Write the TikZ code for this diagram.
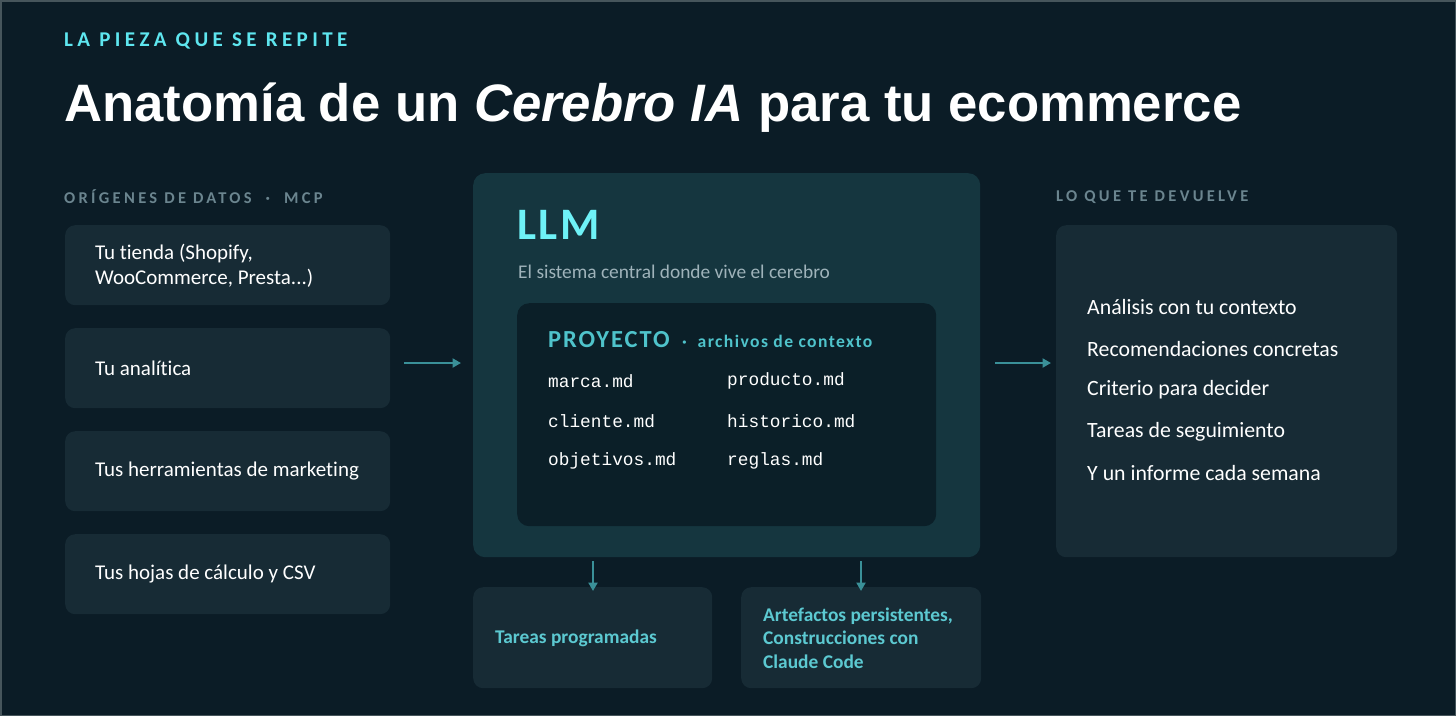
\documentclass[tikz,border=0pt]{standalone}
\usepackage{fontspec}
\setmainfont{Carlito}[Ligatures=NoCommon]
\newfontfamily\titlefont{Liberation Sans}
\newfontfamily\filefont{Liberation Mono}
\newfontfamily\widefont[LetterSpace=20]{Carlito}
\newfontfamily\kickfont[LetterSpace=21]{Carlito}
\newfontfamily\midfont[LetterSpace=8]{Carlito}
\newfontfamily\llmfont[LetterSpace=6]{Carlito}
\usetikzlibrary{arrows.meta}
\definecolor{bgc}{HTML}{0B1C26}
\definecolor{framec}{HTML}{46555B}
\definecolor{cardc}{HTML}{172B35}
\definecolor{llmc}{HTML}{15363F}
\definecolor{projc}{HTML}{0B1F28}
\definecolor{cyanA}{HTML}{5EE6EF}
\definecolor{cyanB}{HTML}{6EF2F7}
\definecolor{cyanC}{HTML}{4FC3CB}
\definecolor{cyanD}{HTML}{5CC9D1}
\definecolor{grayl}{HTML}{6B858F}
\definecolor{subc}{HTML}{9FB3BA}
\definecolor{arrc}{HTML}{3A9098}
\tikzset{
  card/.style={fill=cardc, rounded corners=10pt, inner sep=0pt, anchor=north west},
  llmbox/.style={fill=llmc, rounded corners=12pt, inner sep=0pt, anchor=north west},
  projbox/.style={fill=projc, rounded corners=12pt, inner sep=0pt, anchor=north west},
  lbl/.style={anchor=west, inner sep=0pt, text=grayl, font=\widefont\bfseries\fontsize{16.5}{20}\selectfont},
  srctxt/.style={anchor=west, inner sep=0pt, text=white, align=left, font=\fontsize{21}{25}\selectfont},
  outtxt/.style={anchor=west, inner sep=0pt, text=white, font=\fontsize{21.8}{25}\selectfont},
  filetxt/.style={anchor=west, inner sep=0pt, text=white, font=\filefont\fontsize{17.8}{20}\selectfont},
  bottxt/.style={anchor=west, inner sep=0pt, text=cyanD, align=left, font=\bfseries\fontsize{19.4}{23.5}\selectfont},
  arr/.style={draw=arrc, line width=2.6pt, -{Triangle[length=8.5pt,width=9pt]}},
}
\begin{document}
\begin{tikzpicture}[x=1pt,y=-1pt]
\useasboundingbox (0,0) rectangle (1456,716);
\fill[framec] (0,0) rectangle (1456,716);
\fill[bgc] (1.5,1.5) rectangle (1454.5,714.5);

% header
\node[anchor=base west, inner sep=0pt, text=cyanA, font=\kickfont\bfseries\fontsize{21}{24}\selectfont] (kicker) at (64,46) {LA PIEZA QUE SE REPITE};
\node[anchor=base west, inner sep=0pt, text=white, font=\titlefont\bfseries\fontsize{52.7}{60}\selectfont] (title) at (64,121) {Anatomía de un \textit{Cerebro IA} para tu ecommerce};

% left column
\node[lbl] (srclbl) at (64,197) {ORÍGENES DE DATOS~~·~~MCP};
\node[card, minimum width=325pt, minimum height=80pt] (s1) at (65,225) {};
\node[card, minimum width=325pt, minimum height=80pt] (s2) at (65,328) {};
\node[card, minimum width=325pt, minimum height=80pt] (s3) at (65,431) {};
\node[card, minimum width=325pt, minimum height=80pt] (s4) at (65,534) {};
\node[srctxt] (t1) at (95,266) {Tu tienda (Shopify,\\WooCommerce, Presta...)};
\node[srctxt] (t2) at (95,368) {Tu analítica};
\node[srctxt] (t3) at (95,471) {Tus herramientas de marketing};
\node[srctxt] (t4) at (95,574) {Tus hojas de cálculo y CSV};

% center
\node[llmbox, minimum width=507pt, minimum height=384pt] (llm) at (473,173) {};
\node[anchor=base west, inner sep=0pt, text=cyanB, font=\llmfont\bfseries\fontsize{45}{50}\selectfont] (llmt) at (517,239) {LLM};
\node[anchor=base west, inner sep=0pt, text=subc, font=\fontsize{19.4}{22}\selectfont] (llms) at (518,278) {El sistema central donde vive el cerebro};
\node[projbox, minimum width=419pt, minimum height=223pt] (proj) at (517,303) {};
\node[anchor=base west, inner sep=0pt, text=cyanC, font=\midfont\bfseries\fontsize{24.5}{28}\selectfont] (projt) at (548,347) {PROYECTO};
\node[anchor=base west, inner sep=0pt, text=cyanC, font=\midfont\bfseries\fontsize{17.6}{20}\selectfont] (projs) at (682,347) {·~~archivos de contexto};
\node[filetxt] (f1) at (548,381) {marca.md};
\node[filetxt] (f2) at (727,381) {producto.md};
\node[filetxt] (f3) at (548,421) {cliente.md};
\node[filetxt] (f4) at (727,421) {historico.md};
\node[filetxt] (f5) at (548,461) {objetivos.md};
\node[filetxt] (f6) at (727,461) {reglas.md};

% bottom
\node[card, minimum width=239pt, minimum height=101pt] (b1) at (473,587) {};
\node[card, minimum width=240pt, minimum height=101pt] (b2) at (741,587) {};
\node[bottxt] (bt1) at (495,638) {Tareas programadas};
\node[bottxt] (bt2) at (763,638) {Artefactos persistentes,\\Construcciones con\\Claude Code};

% right column
\node[lbl] (outlbl) at (1056,197) {LO QUE TE DEVUELVE};
\node[card, minimum width=341pt, minimum height=332pt] (out) at (1056,225) {};
\node[outtxt] (o1) at (1087,307) {Análisis con tu contexto};
\node[outtxt] (o2) at (1087,349) {Recomendaciones concretas};
\node[outtxt] (o3) at (1087,390) {Criterio para decider};
\node[outtxt] (o4) at (1087,432) {Tareas de seguimiento};
\node[outtxt] (o5) at (1087,473) {Y un informe cada semana};

% connectors
\coordinate (ls) at (404,363);
\coordinate (rs) at (995,363);
\draw[arr] (ls) -- ([xshift=-12pt]llm.west |- ls);
\draw[arr] (rs) -- ([xshift=-5pt]out.west |- rs);
\coordinate (d1) at (593,561);
\coordinate (d2) at (861,561);
\draw[arr] (d1) -- ([yshift=-4pt]b1.north -| d1);
\draw[arr] (d2) -- ([yshift=-4pt]b2.north -| d2);
\end{tikzpicture}
\end{document}
